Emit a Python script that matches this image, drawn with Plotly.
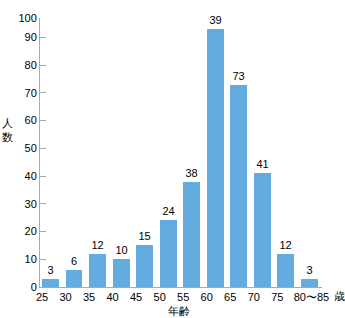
import plotly.graph_objects as go

categories = ["25", "30", "35", "40", "45", "50", "55", "60", "65", "70", "75", "80〜85"]
counts = [3, 6, 12, 10, 15, 24, 38, 93, 73, 41, 12, 3]
bar_labels = ["3", "6", "12", "10", "15", "24", "38", "39", "73", "41", "12", "3"]
y_tick_vals = [0, 10, 20, 30, 40, 50, 60, 70, 80, 90, 97]
y_tick_text = ["0", "10", "20", "30", "40", "50", "60", "70", "80", "90", "100"]

pos = list(range(len(categories)))
font = "Liberation Sans, Arial, sans-serif"

fig = go.Figure()
fig.add_trace(go.Bar(
    x=pos, y=counts, width=0.72, offset=0,
    marker=dict(color="#64ace0", line=dict(width=0)),
    text=bar_labels, textposition="outside",
    textfont=dict(size=11, color="#000", family=font),
    cliponaxis=False,
))

xtick_vals = pos[:-1] + [11.45]
fig.update_layout(
    width=345, height=318,
    margin=dict(l=40, r=23, t=13, b=31),
    paper_bgcolor="white", plot_bgcolor="white",
    showlegend=False,
    font=dict(family=font, size=11, color="#000"),
    xaxis=dict(range=[-0.085, 11.9], tickvals=xtick_vals, ticktext=categories,
               showgrid=False, zeroline=False, showline=True, linecolor="#aaaaaa",
               linewidth=1, ticks="", tickfont=dict(size=11), ticklen=0),
    yaxis=dict(range=[0, 97], tickvals=y_tick_vals, ticktext=y_tick_text,
               showgrid=False, zeroline=False, showline=True, linecolor="#aaaaaa",
               linewidth=1, ticks="inside", ticklen=6, tickcolor="#aaaaaa",
               tickfont=dict(size=11)),
    bargap=0,
)
# unit label after the last category
fig.add_annotation(xref="paper", x=(339 - 40) / 282, yref="paper", y=-(296 - 287) / 274,
                   xanchor="center", yanchor="middle", text="歳",
                   showarrow=False, font=dict(size=11))
# x title
fig.add_annotation(xref="paper", x=(179 - 40) / 282, yref="paper", y=-(311 - 287) / 274,
                   xanchor="center", yanchor="middle", text="年齢",
                   showarrow=False, font=dict(size=11))
# y title (stacked vertically)
fig.add_annotation(xref="paper", x=(7 - 40) / 282, yref="paper", y=(287 - 127) / 274,
                   xanchor="center", yanchor="middle", text="人<br>数",
                   showarrow=False, font=dict(size=11), align="center")

fig.write_html("out.html")
